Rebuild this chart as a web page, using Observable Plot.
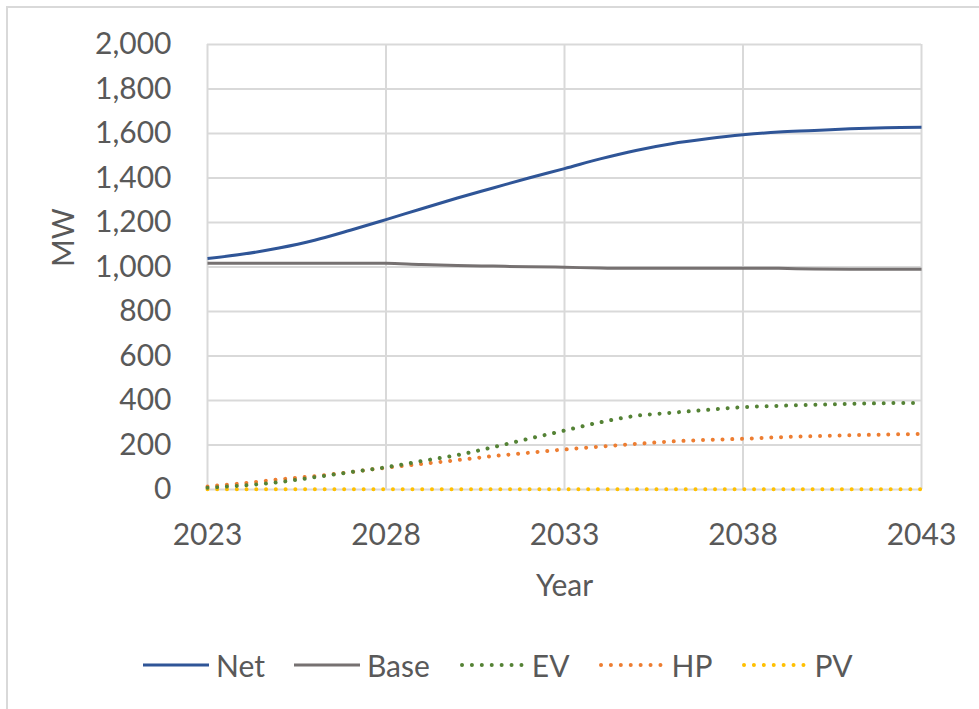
<!DOCTYPE html>
<html>
<head>
<meta charset="utf-8">
<script src="https://cdn.jsdelivr.net/npm/d3@7"></script>
<script src="https://cdn.jsdelivr.net/npm/@observablehq/plot@0.6"></script>
<style>
  html, body { margin: 0; padding: 0; background: #fff; overflow: hidden; }
  #wrap { position: relative; width: 979px; height: 709px; overflow: hidden; font-family: Lato, "Open Sans", sans-serif; color: #595959; }
  #frame { position: absolute; left: 6px; top: 6px; width: 1200px; height: 1000px; border: 2px solid #d9d9d9; box-sizing: border-box; }
  #chart { position: absolute; left: 0; top: 0; }
  #legend { position: absolute; left: 143px; top: 647px; display: flex; align-items: center; font-size: 30px; white-space: nowrap; }
  .item { display: flex; align-items: center; margin-right: 29px; }
  .item svg { margin-right: 7px; }
</style>
</head>
<body>
<div id="wrap">
  <div id="frame"></div>
  <div id="chart"></div>
  <div id="legend"></div>
</div>
<script>
const years = [2023,2024,2025,2026,2027,2028,2029,2030,2031,2032,2033,2034,2035,2036,2037,2038,2039,2040,2041,2042,2043];
const net  = [1038,1058,1085,1120,1165,1213,1262,1310,1355,1400,1442,1486,1524,1554,1576,1594,1607,1613,1621,1626,1628];
const base = [1017,1017,1017,1017,1017,1017,1011,1007,1004,1001,999,995,994,994,994,994,994,991,990,990,990];
const ev   = [8,18,33,55,78,100,128,155,190,228,265,302,331,345,358,370,376,381,385,388,389];
const hp   = [14,28,45,60,78,98,115,132,150,165,180,193,205,216,223,228,235,240,244,247,250];
const pv   = [1,1,1,1,1,1,1,1,1,1,1,1,1,1,1,1,1,1,1,1,1];

const seriesNames = ["Net","Base","EV","HP","PV"];
const seriesValues = [net, base, ev, hp, pv];
const colors = ["#2F5597","#767171","#548235","#ED7D31","#FFC000"];
const dotted = [false,false,true,true,true];
const xTicks = [2023,2028,2033,2038,2043];
const yTicks = [0,200,400,600,800,1000,1200,1400,1600,1800,2000];

const rows = seriesNames.map((name, i) => years.map((y, j) => ({series: name, year: y, value: seriesValues[i][j]})));

const W = 979, H = 620;
const lineMarks = rows.map((data, i) => Plot.line(data, {
  x: "year", y: "value", stroke: colors[i],
  strokeWidth: dotted[i] ? 4 : 3,
  strokeDasharray: dotted[i] ? "0.01 9.75" : null,
  strokeLinecap: dotted[i] ? "round" : "butt",
  curve: "catmull-rom"
}));

const chart = Plot.plot({
  width: W, height: H,
  marginLeft: 207, marginRight: 58, marginTop: 44, marginBottom: H - 489,
  style: { fontFamily: "Lato, 'Open Sans', sans-serif", color: "#595959", background: "transparent", overflow: "visible" },
  x: { domain: [2023, 2043] },
  y: { domain: [0, 2000] },
  marks: [
    Plot.gridX(xTicks, { stroke: "#d9d9d9", strokeOpacity: 1, strokeWidth: 2 }),
    Plot.gridY(yTicks, { stroke: "#d9d9d9", strokeOpacity: 1, strokeWidth: 2 }),
    Plot.axisX(xTicks, { tickSize: 0, tickPadding: 34, fontSize: 30, tickFormat: d => String(d), label: null, fill: "#595959" }),
    Plot.axisY(yTicks, { tickSize: 0, tickPadding: 36, fontSize: 30, tickFormat: d3.format(","), label: null, fill: "#595959" }),
    ...lineMarks.slice().reverse(),
    Plot.text(["MW"], { frameAnchor: "left", dx: -143, rotate: -90, fontSize: 30, fill: "#595959" }),
    Plot.text(["Year"], { frameAnchor: "bottom", lineAnchor: "middle", dy: 97, fontSize: 30, fill: "#595959" })
  ]
});
document.getElementById("chart").appendChild(chart);

const legend = document.getElementById("legend");
seriesNames.forEach((name, i) => {
  const item = document.createElement("div");
  item.className = "item";
  const sw = dotted[i]
    ? `<svg width="66" height="10"><line x1="3" y1="5" x2="63" y2="5" stroke="${colors[i]}" stroke-width="4" stroke-linecap="round" stroke-dasharray="0.01 9.9"/></svg>`
    : `<svg width="66" height="10"><line x1="0" y1="5" x2="66" y2="5" stroke="${colors[i]}" stroke-width="3"/></svg>`;
  item.innerHTML = sw + `<span>${name}</span>`;
  legend.appendChild(item);
});
</script>
</body>
</html>
